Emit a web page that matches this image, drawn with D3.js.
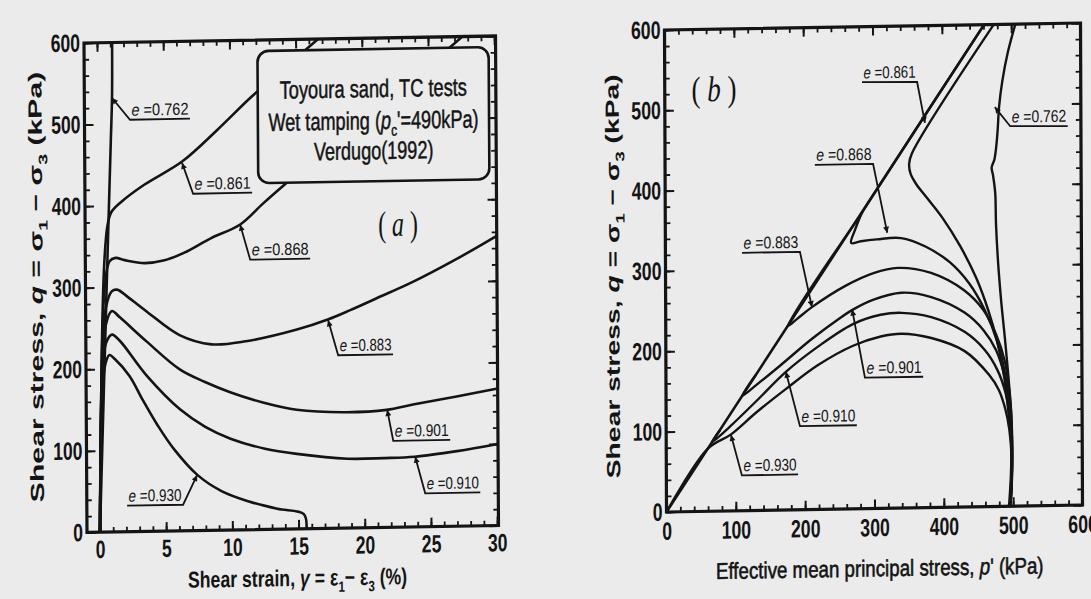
<!DOCTYPE html>
<html>
<head>
<meta charset="utf-8">
<script src="https://cdn.jsdelivr.net/npm/d3@7/dist/d3.min.js"></script>
<style>
  html, body { margin: 0; padding: 0; background: #ebebeb; }
  svg { display: block; }
</style>
</head>
<body>
<svg id="fig" width="1091" height="599"></svg>
<script>
// ---------------- Panel (a): q against shear strain (%) ----------------
const voidRatios = ["0.762", "0.861", "0.868", "0.883", "0.901", "0.910", "0.930"];

const strainE0762 = [[0,0],[0.35,170],[0.7,340],[1.0,480],[1.11,532],[1.14,600]];
const strainE0861 = [[0,0],[0.1,110],[0.25,240],[0.45,330],[0.7,375],[1.0,392],[1.8,405],[3.5,425],[6.4,453],[9,490],[11.6,530],[14,563],[16.7,600]];
const strainE0868 = [[0,0],[0.1,110],[0.25,230],[0.5,305],[0.85,332],[1.3,336],[2,333],[3.5,329],[5,332],[6.5,341],[8.5,358],[10.7,374],[12.5,400],[14.6,429],[18,475],[22,528],[26.2,581],[27.6,600]];
const strainE0883 = [[0,0],[0.1,110],[0.25,210],[0.55,275],[1.0,295],[1.4,297],[2.2,288],[3.6,270],[6.1,240],[8.5,228],[11.1,231],[14.9,244],[17.3,256],[19,267],[21,281],[23.7,300],[27,327],[30.1,355]];
const strainE0901 = [[0,0],[0.1,110],[0.25,200],[0.55,255],[1.0,271],[1.6,263],[3.6,233],[6.1,198],[8,182],[9.9,169],[12.5,155],[14.9,146],[18.7,142],[21.7,144],[23.7,150],[27,159],[30.1,168]];
const strainE0910 = [[0,0],[0.1,110],[0.25,190],[0.55,232],[1.0,242],[1.6,234],[3.6,191],[6.1,149],[8,127],[9.9,112],[12.5,99],[14.9,92],[18.7,85],[21.5,85],[23.8,86],[27,92],[30.1,100]];
const strainE0930 = [[0,0],[0.1,110],[0.25,175],[0.5,207],[0.8,217],[1.2,212],[2.3,191],[3.3,161],[4.4,130],[5.6,101],[7.4,68],[9.2,48],[11.2,35],[13.4,25],[15.4,18],[15.6,0]];

const strainTickValues = [0, 5, 10, 15, 20, 25, 30];
const stressTickValues = [0, 100, 200, 300, 400, 500, 600];

// leader lines of the e-labels: arrow tip on the curve, knee, far end of the underline
const strainLabelTips  = [[1.11,532],[6.37,451],[10.73,374],[17.33,255],[21.75,144],[23.84,86],[7.36,68]];
const strainLabelKnees = [[2.46,505],[7.19,413],[11.47,331],[18.07,212],[22.19,106],[24.58,41],[6.29,32]];
const strainLabelEnds  = [[6.99,505],[11.65,413],[16.0,331],[22.22,212],[26.49,106],[28.74,41],[2.06,32]];

// ---------------- Panel (b): effective stress paths ----------------
const failureLine = [[0,0],[461,600]];
const pathE0762 = [[494,0],[497,40],[498,110],[494,160],[489,210],[484,255],[480,300],[477,350],[476,390],[473,412],[471,422],[475,432],[478,450],[480,470],[482,497],[487,530],[495,565],[506,600]];
const pathE0861 = [[496,0],[498,30],[498,70],[494,115],[488,160],[478,205],[465,245],[448,285],[425,325],[400,360],[378,385],[362,403],[354,416],[352,428],[356,441],[475,600]];
const pathE0868 = [[496,0],[498,60],[496,110],[490,160],[478,205],[460,245],[438,278],[410,305],[375,325],[340,336],[305,335],[282,333],[268,331],[274,348],[283,367],[293,381],[461,600]];
const pathE0883 = [[496,0],[498,35],[499,85],[496,135],[489,180],[476,215],[458,245],[430,270],[383,292],[335,299],[300,293],[260,278],[211,252],[190,238],[176,229],[277,360]];
const pathE0901 = [[496,0],[498,30],[499,75],[496,120],[489,160],[476,195],[458,220],[431,242],[383,262],[340,268],[300,260],[270,248],[250,237],[210,212],[165,180],[130,156],[110,143],[129,168]];
const pathE0910 = [[496,0],[498,25],[499,65],[496,105],[490,140],[478,170],[460,195],[431,218],[383,237],[340,243],[310,241],[270,230],[220,203],[173,172],[130,136],[92,105],[66,86],[77,100]];
const pathE0930 = [[496,0],[497,25],[498,60],[495,95],[489,122],[480,145],[466,164],[431,194],[383,211],[340,217],[310,214],[270,203],[220,180],[175,152],[130,122],[93,95],[60,78],[0,0]];

const meanStressTickValues = [0, 100, 200, 300, 400, 500, 600];

const pathLabelTips  = [[476,497],[375,479],[320,343],[211,252],[269,248],[173,172],[93.5,94.5]];
const pathLabelKnees = [[498,473],[364,530],[300,429],[194,321],[287,163],[193,104],[109,44]];
const pathLabelEnds  = [[581,472],[284.5,531],[216,429],[110.5,321],[371,163],[275,104],[190,44]];

// ---------------- drawing ----------------
const SANS = "'Liberation Sans', Arial, Helvetica, sans-serif";
const SERIF = "'Liberation Serif', 'Times New Roman', serif";
const INK = "#141414";

const svg = d3.select("#fig");
svg.append("rect").attr("width", 1091).attr("height", 599).attr("fill", "#ebebeb");
const defs = svg.append("defs");
defs.append("marker")
  .attr("id", "tipArrow").attr("viewBox", "0 0 10 10")
  .attr("refX", 10).attr("refY", 5)
  .attr("markerWidth", 8).attr("markerHeight", 6)
  .attr("markerUnits", "userSpaceOnUse")
  .attr("orient", "auto-start-reverse")
  .append("path").attr("d", "M0,0 L10,5 L0,10 z").attr("fill", INK);

// text with condensed glyphs fitted to a measured length
function fit(t, len) {
  return t.attr("textLength", len).attr("lengthAdjust", "spacingAndGlyphs");
}
function rich(t, parts, size) {
  parts.forEach(p => {
    const s = t.append("tspan").text(p.t);
    if (p.i) s.attr("font-style", "italic");
    if (p.sub) s.attr("font-size", size * 0.65).attr("dy", size * 0.28);
    if (p.up) s.attr("dy", -size * 0.28);
  });
  return t;
}

function buildPanel(cfg) {
  const g = svg.append("g").attr("transform", `matrix(${cfg.matrix.join(",")})`);
  const x = d3.scaleLinear().domain(cfg.xDomain).range([cfg.x0, cfg.x1]);
  const y = d3.scaleLinear().domain([0, 600]).range([cfg.y1, cfg.y0]);

  defs.append("clipPath").attr("id", cfg.id + "Clip")
    .append("rect").attr("x", cfg.x0).attr("y", cfg.y0)
    .attr("width", cfg.x1 - cfg.x0).attr("height", cfg.y1 - cfg.y0);

  // inward ticks on all four sides
  const sides = [
    { axis: d3.axisBottom(x), at: `translate(0,${cfg.y1})`, ticks: cfg.xMinor, major: cfg.xMajor },
    { axis: d3.axisTop(x),    at: `translate(0,${cfg.y0})`, ticks: cfg.xMinor, major: cfg.xMajor },
    { axis: d3.axisLeft(y),   at: `translate(${cfg.x0},0)`, ticks: cfg.yMinor, major: cfg.yMajor },
    { axis: d3.axisRight(y),  at: `translate(${cfg.x1},0)`, ticks: cfg.yMinor, major: cfg.yMajor }
  ];
  sides.forEach(s => {
    g.append("g").attr("transform", s.at)
      .call(s.axis.tickValues(s.ticks).tickSize(-5).tickSizeOuter(0).tickFormat(""))
      .call(a => a.select(".domain").remove())
      .call(a => a.selectAll("line").attr("stroke", INK).attr("stroke-width", 1.8));
    g.append("g").attr("transform", s.at)
      .call(s.axis.tickValues(s.major).tickSize(-9).tickSizeOuter(0).tickFormat(""))
      .call(a => a.select(".domain").remove())
      .call(a => a.selectAll("line").attr("stroke", INK).attr("stroke-width", 2));
  });

  // tick labels
  g.append("g").attr("transform", `translate(0,${cfg.y1})`)
    .call(d3.axisBottom(x).tickValues(cfg.xMajor).tickSize(0).tickPadding(cfg.xPad))
    .call(a => a.select(".domain").remove())
    .call(a => a.selectAll("text").each(function(d) {
      const t = d3.select(this).attr("font-family", SANS).attr("font-size", 25)
        .attr("font-weight", "bold").attr("fill", INK);
      fit(t, String(d).length * 9.8);
    }));
  g.append("g").attr("transform", `translate(${cfg.x0},0)`)
    .call(d3.axisLeft(y).tickValues(cfg.yMajor).tickSize(0).tickPadding(4))
    .call(a => a.select(".domain").remove())
    .call(a => a.selectAll("text").each(function(d) {
      const t = d3.select(this).attr("font-family", SANS).attr("font-size", 25)
        .attr("font-weight", "bold").attr("fill", INK);
      fit(t, String(d).length * 9.8);
    }));

  // frame
  g.append("rect").attr("x", cfg.x0).attr("y", cfg.y0)
    .attr("width", cfg.x1 - cfg.x0).attr("height", cfg.y1 - cfg.y0)
    .attr("fill", "none").attr("stroke", INK).attr("stroke-width", 3.2);

  const plot = g.append("g").attr("clip-path", `url(#${cfg.id}Clip)`);
  return { g, plot, x, y };
}

function drawCurves(p, series, width) {
  const line = d3.line().x(d => p.x(d[0])).y(d => p.y(d[1])).curve(d3.curveCatmullRom.alpha(0.5));
  series.forEach(s => {
    p.plot.append("path").attr("d", line(s)).attr("fill", "none")
      .attr("stroke", INK).attr("stroke-width", width)
      .attr("stroke-linejoin", "round").attr("stroke-linecap", "round");
  });
}

function drawLabels(p, tips, knees, ends) {
  voidRatios.forEach((v, i) => {
    const pts = [tips[i], knees[i], ends[i]].map(d => [p.x(d[0]), p.y(d[1])]);
    p.g.append("path").attr("d", d3.line()(pts)).attr("fill", "none")
      .attr("stroke", INK).attr("stroke-width", 1.8).attr("marker-start", "url(#tipArrow)");
    const xa = Math.min(pts[1][0], pts[2][0]), xb = Math.max(pts[1][0], pts[2][0]);
    const base = (pts[1][1] + pts[2][1]) / 2 - 4;
    const t = p.g.append("text").attr("x", (xa + xb) / 2).attr("y", base)
      .attr("text-anchor", "middle").attr("font-family", SANS).attr("font-size", 17).attr("fill", INK);
    t.append("tspan").attr("font-style", "italic").text("e");
    t.append("tspan").text(" =" + v);
    fit(t, xb - xa - 3);
  });
}

// ---- (a) ----
const pa = buildPanel({
  id: "strain",
  matrix: [0.99637, -0.01695, 0.006135, 1.001, 0.041, 1.381],
  x0: 84, x1: 497, y0: 43, y1: 532,
  xDomain: [-0.98, 30.1],
  xMinor: d3.range(0, 31, 1), xMajor: strainTickValues,
  yMinor: d3.range(0, 601, 20), yMajor: stressTickValues,
  xPad: 8
});
drawCurves(pa, [strainE0762, strainE0861, strainE0868, strainE0883, strainE0901, strainE0910, strainE0930], 2.6);
drawLabels(pa, strainLabelTips, strainLabelKnees, strainLabelEnds);

// legend box
pa.g.append("rect").attr("x", 258).attr("y", 54).attr("width", 232).attr("height", 132)
  .attr("rx", 11).attr("fill", "#ebebeb").attr("stroke", INK).attr("stroke-width", 2.6);
const boxText = (yy, len) => pa.g.append("text").attr("x", 374).attr("y", yy).attr("text-anchor", "middle")
  .attr("font-family", SANS).attr("font-size", 25).attr("fill", INK)
  .attr("stroke", INK).attr("stroke-width", 0.5);
fit(boxText(102).text("Toyoura sand, TC tests"), 188);
fit(rich(boxText(134), [{ t: "Wet tamping (" }, { t: "p", i: true }, { t: "c", sub: true }, { t: "'=490kPa)", up: true }], 25), 211);
fit(boxText(164).text("Verdugo(1992)"), 120);
fit(rich(pa.g.append("text").attr("x", 398).attr("y", 241).attr("text-anchor", "middle")
  .attr("font-family", SERIF).attr("font-size", 36).attr("fill", INK),
  [{ t: "( " }, { t: "a", i: true }, { t: " )" }], 36), 40);

// axis titles
fit(rich(pa.g.append("text").attr("x", 295).attr("y", 589).attr("text-anchor", "middle")
  .attr("font-family", SANS).attr("font-size", 23).attr("font-weight", "bold").attr("fill", INK),
  [{ t: "Shear strain,  " }, { t: "γ", i: true }, { t: " = ε" }, { t: "1", sub: true },
   { t: "− ε", up: true }, { t: "3", sub: true }, { t: " (%)", up: true }], 23), 220);
fit(rich(pa.g.append("text").attr("transform", "translate(41,286) rotate(-90)").attr("text-anchor", "middle")
  .attr("font-family", SANS).attr("font-size", 19).attr("font-weight", "bold").attr("fill", INK),
  [{ t: "Shear stress,  " }, { t: "q", i: true }, { t: " = σ" }, { t: "1", sub: true },
   { t: " − σ", up: true }, { t: "3", sub: true }, { t: " (kPa)", up: true }], 19), 430);

// ---- (b) ----
const pb = buildPanel({
  id: "path",
  matrix: [1.00483, -0.01691, 0.00414, 0.99793, -4.829, 14.318],
  x0: 666, x1: 1080, y0: 27, y1: 510,
  xDomain: [0, 600],
  xMinor: d3.range(0, 601, 20), xMajor: meanStressTickValues,
  yMinor: d3.range(0, 601, 20), yMajor: stressTickValues,
  xPad: 10
});
drawCurves(pb, [failureLine], 2.6);
drawCurves(pb, [pathE0762, pathE0861, pathE0868, pathE0883, pathE0901, pathE0910, pathE0930], 2.4);
drawLabels(pb, pathLabelTips, pathLabelKnees, pathLabelEnds);

fit(rich(pb.g.append("text").attr("x", 715).attr("y", 99).attr("text-anchor", "middle")
  .attr("font-family", SERIF).attr("font-size", 36).attr("fill", INK),
  [{ t: "( " }, { t: "b", i: true }, { t: " )" }], 36), 45);

fit(rich(pb.g.append("text").attr("x", 878).attr("y", 578).attr("text-anchor", "middle")
  .attr("font-family", SANS).attr("font-size", 23).attr("fill", INK)
  .attr("stroke", INK).attr("stroke-width", 0.6),
  [{ t: "Effective mean principal stress,  " }, { t: "p", i: true }, { t: "' (kPa)" }], 23), 326);
fit(rich(pb.g.append("text").attr("transform", "translate(620,273) rotate(-90)").attr("text-anchor", "middle")
  .attr("font-family", SANS).attr("font-size", 19).attr("font-weight", "bold").attr("fill", INK),
  [{ t: "Shear stress,  " }, { t: "q", i: true }, { t: " = σ" }, { t: "1", sub: true },
   { t: " − σ", up: true }, { t: "3", sub: true }, { t: " (kPa)", up: true }], 19), 405);
</script>
</body>
</html>
